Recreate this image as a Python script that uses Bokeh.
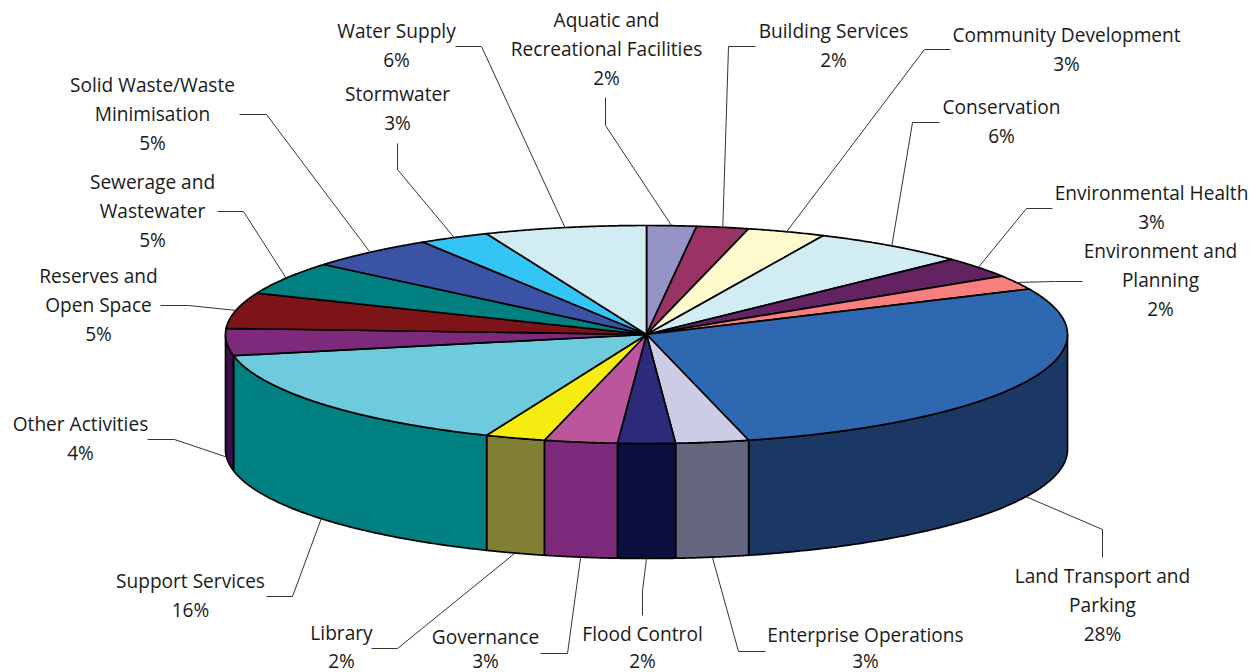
import numpy as np
from bokeh.plotting import figure
from bokeh.models import ColumnDataSource
from bokeh.core.properties import value
from bokeh.embed import file_html
from bokeh.resources import INLINE

# ---- data -------------------------------------------------------------
categories = ["Aquatic and\nRecreational Facilities", "Building Services", "Community Development",
              "Conservation", "Environmental Health", "Environment and\nPlanning",
              "Land Transport and\nParking", "Enterprise Operations", "Flood Control",
              "Governance", "Library", "Support Services", "Other Activities",
              "Reserves and\nOpen Space", "Sewerage and\nWastewater", "Solid Waste/Waste\nMinimisation",
              "Stormwater", "Water Supply"]
shares = [1.9, 2.0, 3.0, 6.0, 3.1, 2.15, 27.95, 2.8, 2.2, 2.8, 2.3, 15.7, 4.0, 5.3, 4.9, 5.0, 2.7, 6.2]
printed = ["2%", "2%", "3%", "6%", "3%", "2%", "28%", "3%", "2%", "3%", "2%", "16%", "4%", "5%", "5%", "5%", "3%", "6%"]

# ---- styles -----------------------------------------------------------
top_colors = ["#9494C6", "#993366", "#FFFACD", "#D2ECF4", "#632363", "#F97F7F", "#2E68B0", "#CCCCE6", "#2B2B7A",
              "#BC559C", "#F7EC12", "#6DCBDD", "#7E2A7C", "#7D1518", "#008080", "#3A53A4", "#33C5F4", "#D2ECF4"]
wall_colors = ["#66667F", "#4D1A33", "#807D66", "#69767A", "#321232", "#7D4040", "#1B3763", "#66667F", "#0C0F3E",
               "#7E2A7C", "#807F33", "#008080", "#3F0F4A", "#3F0A0C", "#004040", "#1D2A52", "#1A627A", "#69767A"]
CX, CY, RX, RY, DEPTH = 646.0, 334.0, 421.0, 109.0, 115.0
FONT, FONT_SIZE, LINE_GAP, LOWEST_LINE = "Open Sans", "19.1px", 29.3, 660

# label layout: centre x, first-line centre y, leader start, leader elbow
label_layout = [
    (606, 19, (605, 97), (605, 125)),
    (833, 30, (755, 46), (728, 46)),
    (1066, 34, (950, 49), (924, 49)),
    (1001, 106, (939, 122), (912, 122)),
    (1151, 192, (1052, 208), (1026, 208)),
    (1160, 250, (1082, 281), (1055, 281)),
    (1102, 575, (1102, 557), (1102, 529)),
    (865, 634, (765, 651), (738, 651)),
    (642, 633, (642, 615), (642, 590)),
    (485, 636, (540, 653), (567, 653)),
    (341, 632, (371, 648), (397, 648)),
    (190, 580, (266, 596), (292, 596)),
    (80, 423, (147, 439), (174, 439)),
    (98, 275, (160, 305), (188, 305)),
    (152, 181, (217, 211), (243, 211)),
    (152, 84, (239, 114), (266, 114)),
    (397, 93, (397, 143), (397, 169)),
    (396, 30, (455, 46), (481, 46)),
]

# ---- geometry from the data --------------------------------------------
edges = np.cumsum([0.0] + shares) / sum(shares) * 2 * np.pi


def rim(a):
    return CX + RX * np.sin(a), CY - RY * np.cos(a)


p = figure(width=1250, height=672, x_range=(0, 1250), y_range=(672, 0),
           output_backend="svg", toolbar_location=None, min_border=0,
           outline_line_color=None, background_fill_color="white", border_fill_color="white")
p.axis.visible = False
p.grid.visible = False

# side walls (only the front half of the disc shows)
wx, wy, wc = [], [], []
for i in range(len(shares)):
    a0, a1 = max(edges[i], np.pi / 2), min(edges[i + 1], 3 * np.pi / 2)
    if a1 <= a0:
        continue
    t = np.linspace(a0, a1, 120)
    x, y = rim(t)
    wx.append(np.r_[x, x[::-1]])
    wy.append(np.r_[y, y[::-1] + DEPTH])
    wc.append(wall_colors[i])
p.patches(wx, wy, fill_color=wc, line_color="black", line_width=1.7, line_join="round")

# top slices
tx, ty = [], []
for i in range(len(shares)):
    t = np.linspace(edges[i], edges[i + 1], max(8, int(shares[i] * 12)))
    x, y = rim(t)
    tx.append(np.r_[CX, x])
    ty.append(np.r_[CY, y])
p.patches(tx, ty, fill_color=top_colors, line_color="black", line_width=1.7, line_join="round")

# leaders: label end -> elbow -> middle of the slice's rim
lx, ly = [], []
for i, (_, _, start, elbow) in enumerate(label_layout):
    mid = (edges[i] + edges[i + 1]) / 2
    ax, ay = rim(mid)
    if np.pi / 2 < mid < 3 * np.pi / 2:
        ay += DEPTH
    lx.append([start[0], elbow[0], ax])
    ly.append([start[1], elbow[1], ay])
p.multi_line(lx, ly, line_color="#333333", line_width=1)

# labels
xs, ys, txt = [], [], []
for name, pct, (cx, y0, _, _) in zip(categories, printed, label_layout):
    for k, line in enumerate(name.split("\n") + [pct]):
        xs.append(cx)
        ys.append(min(y0 + k * LINE_GAP, LOWEST_LINE))
        txt.append(line)
p.text(x="x", y="y", text="t", source=ColumnDataSource(dict(x=xs, y=ys, t=txt)),
       text_font=value(FONT), text_font_size=value(FONT_SIZE), text_color="#1a1a1a",
       text_align="center", text_baseline="middle")

open("out.html", "w").write(file_html(p, INLINE))
